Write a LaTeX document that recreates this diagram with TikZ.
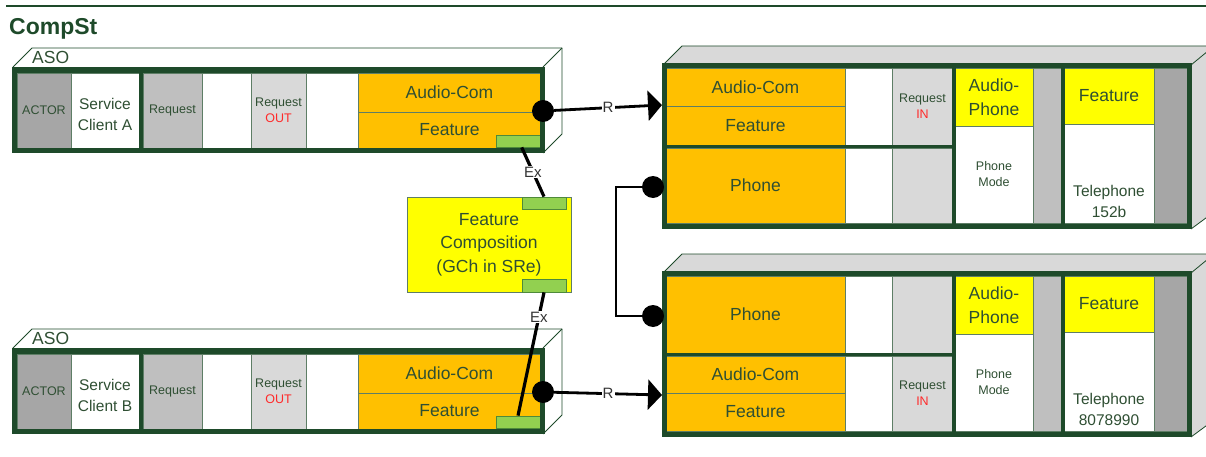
\documentclass[tikz,border=0pt]{standalone}
\usepackage{fontspec}
\setmainfont{Liberation Sans}
\usetikzlibrary{positioning,fit,arrows.meta}
\definecolor{frameB}{HTML}{1E4A2A}
\definecolor{cellB}{HTML}{5E7E66}
\definecolor{ink}{HTML}{2F4F33}
\definecolor{orangeF}{HTML}{FFC000}
\definecolor{yellowF}{HTML}{FFFF00}
\definecolor{plugF}{HTML}{92D050}
\definecolor{plugB}{HTML}{4E8A3A}
\definecolor{greyD}{HTML}{A6A6A6}
\definecolor{greyM}{HTML}{BFBFBF}
\definecolor{greyL}{HTML}{D9D9D9}
\definecolor{outRed}{HTML}{FF2A2A}
\definecolor{wireText}{HTML}{333333}

\begin{document}
\begin{tikzpicture}[x=1pt, y=-1pt,
    every node/.style={text=ink},
    fsmall/.style={font=\fontsize{12.5}{16}\selectfont},
    fmid/.style={font=\fontsize{15.5}{21}\selectfont},
    fbig/.style={font=\fontsize{17.5}{23.5}\selectfont},
    small/.style={label={[fsmall, align=center, inner sep=0pt]center:#1}},
    mid/.style={label={[fmid, align=center, inner sep=0pt, yshift=-4pt]center:#1}},
    big/.style={label={[fbig, align=center, inner sep=0pt]center:#1}},
    cell/.style={draw=cellB, line width=0.8pt, inner sep=0pt},
    frame/.style={draw=frameB, line width=5.5pt},
    sep/.style={draw=frameB, line width=3.5pt},
    face/.style={draw=frameB, line width=0.8pt, line join=round},
    plug/.style={cell, draw=plugB, fill=plugF},
    dot/.style={circle, fill=black, inner sep=0pt, minimum size=22pt},
    wireR/.style={draw=black, line width=2.8pt, -{Triangle[length=14pt,width=30pt]}},
    wireEx/.style={draw=black, line width=3.2pt},
    wlab/.style={fill=white, inner sep=1pt, text=wireText, font=\fontsize{15}{18}\selectfont},
  ]
  \useasboundingbox (0,0) rectangle (1206,457);

  % title and rule
  \draw[frameB, line width=1.2pt] (6,6) -- (1206,6);
  \node[anchor=base west, inner sep=0pt, text=frameB, font=\fontsize{23}{28}\selectfont\bfseries] (title) at (9,35) {CompSt};

  % the two ASO boxes on the left
  \foreach \s/\dy in {A/0, B/281} {
    \begin{scope}[yshift=-\dy pt]
      \path[face, fill=white] (13,67) -- (32,48) -- (562,48) -- (562,134) -- (543,153);
      \draw[face] (543,67) -- (562,48);
      \node[fbig, anchor=west, inner sep=0pt] (aso\s) at (32,57.5) {ASO};
      \node[cell, fill=greyD, fit={(17,73) (71,148)}, small=ACTOR] (actor\s) {};
      \node[cell, fill=white, fit={(71,73) (139,148)}, mid={Service\\Client \s}] (client\s) {};
      \node[cell, fill=greyM, fit={(143,73) (202,148)}, small=Request] (req\s) {};
      \node[cell, fill=white, fit={(202,73) (251,148)}] (reqgap\s) {};
      \node[cell, fill=greyL, fit={(251,73) (306,148)}, small={Request\\\textcolor{outRed}{OUT}}] (out\s) {};
      \node[cell, fill=white, fit={(306,73) (358,148)}] (outgap\s) {};
      \node[cell, fill=orangeF, fit={(358,73) (541,112)}, big=Audio-Com] (acom\s) {};
      \node[cell, fill=orangeF, fit={(358,112) (541,148)}, big=Feature] (feat\s) {};
      \node[plug, fit={(496,135) (540,147)}] (ex\s) {};
      \draw[frame] (14.5,70) rectangle (542.5,150.5);
      \draw[sep] (141,72) -- (141,149);
      \node[dot] (dot\s) at (543,111) {};
    \end{scope}
  }

  % feature composition in the middle
  \node[cell, fill=yellowF, fit={(407,197) (571,292)}, big={Feature\\Composition\\(GCh in SRe)}] (fc) {};
  \node[plug, fit={(522,197) (566,209)}] (fcTop) {};
  \node[plug, fit={(522,279) (566,292)}] (fcBot) {};

  % right boxes, shared columns
  \foreach \s/\dy/\num in {C/0/152b, D/208/8078990} {
    \begin{scope}[yshift=-\dy pt]
      \path[face, fill=greyL] (663,65) -- (682,46) -- (1214,46) -- (1214,212) -- (1191,229);
      \draw[face] (1191,65) -- (1214,46);
      \node[cell, fill=yellowF, fit={(955,68) (1033,126)}, big={Audio-\\Phone}] (aph\s) {};
      \node[cell, fill=white, fit={(955,126) (1033,223)}, small={Phone\\Mode}] (mode\s) {};
      \node[cell, fill=greyM, fit={(1033,68) (1062,223)}] (gapM\s) {};
      \node[cell, fill=yellowF, fit={(1064,68) (1154,124)}, big=Feature] (tfeat\s) {};
      \node[cell, fill=white, fit={(1064,124) (1154,223)}] (tel\s) {};
      \node[fmid, align=center, inner sep=0pt] (telno\s) at (1109,201) {Telephone\\\num};
      \node[cell, fill=greyD, fit={(1154,68) (1189,223)}] (gapD\s) {};
    \end{scope}
  }

  % right box C
  \node[cell, fill=orangeF, fit={(666,68) (845,106)}, big=Audio-Com] (acomC) {};
  \node[cell, fill=orangeF, fit={(666,106) (845,145)}, big=Feature] (featC) {};
  \node[cell, fill=white, fit={(845,68) (892,145)}] (wC1) {};
  \node[cell, fill=greyL, fit={(892,68) (953,145)}, small={Request\\\textcolor{outRed}{IN}}] (inC) {};
  \node[cell, fill=orangeF, fit={(666,148) (845,223)}, big=Phone] (phoneC) {};
  \node[cell, fill=white, fit={(845,148) (892,223)}] (wC2) {};
  \node[cell, fill=greyL, fit={(892,148) (953,223)}] (gC2) {};
  \draw[frame] (664.5,65.5) rectangle (1189.5,226.5);
  \draw[sep] (954,66) -- (954,226);
  \draw[sep] (1063,66) -- (1063,226);
  \draw[sep] (664,146.5) -- (954,146.5);

  % right box D
  \node[cell, fill=orangeF, fit={(666,276) (845,353)}, big=Phone] (phoneD) {};
  \node[cell, fill=white, fit={(845,276) (892,353)}] (wD1) {};
  \node[cell, fill=greyL, fit={(892,276) (953,353)}] (gD1) {};
  \node[cell, fill=orangeF, fit={(666,356) (845,393)}, big=Audio-Com] (acomD) {};
  \node[cell, fill=orangeF, fit={(666,393) (845,431)}, big=Feature] (featD) {};
  \node[cell, fill=white, fit={(845,356) (892,431)}] (wD2) {};
  \node[cell, fill=greyL, fit={(892,356) (953,431)}, small={Request\\\textcolor{outRed}{IN}}] (inD) {};
  \draw[frame] (664.5,273.5) rectangle (1189.5,434.5);
  \draw[sep] (954,274) -- (954,434);
  \draw[sep] (1063,274) -- (1063,434);
  \draw[sep] (664,354.5) -- (954,354.5);

  \node[dot] (dotC) at (653,187) {};
  \node[dot] (dotD) at (653,316) {};

  % connectors
  \coordinate (tipA) at (662,105);
  \coordinate (tipB) at (662,395);
  \draw[wireR] (dotA) -- node[wlab] (rA) {R} (tipA);
  \draw[wireR] (dotB) -- node[wlab] (rB) {R} (tipB);
  \draw[wireEx] (exA.-60) -- node[wlab] (exlabA) {Ex} (fcTop.north);
  \draw[wireEx] (fcBot.south) -- node[wlab, pos=0.2] (exlabB) {Ex} (exB.north);
  \draw[black, line width=2.5pt] (dotC.west) -- ++(-26,0) |- (dotD.west);
\end{tikzpicture}
\end{document}
